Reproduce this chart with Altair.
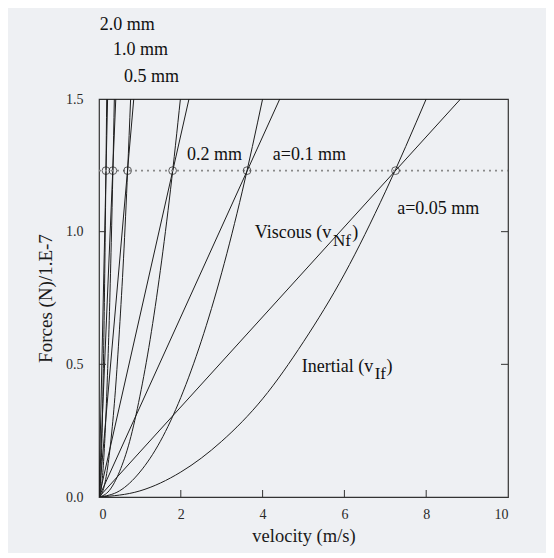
import altair as alt
import pandas as pd

# ---------------- data ----------------
radii = ["2.0 mm", "1.0 mm", "0.5 mm", "0.2 mm", "0.1 mm", "0.05 mm"]
cross_v = [0.17, 0.34, 0.70, 1.80, 3.62, 7.25]      # velocity where viscous = inertial
cross_f = 1.23                                         # force level of the crossings
visc_top_v = [0.21, 0.41, 0.85, 2.20, 4.42, 8.84]     # where viscous line leaves the top

inert_v_20 = [0, 0.025, 0.05, 0.075, 0.10, 0.125, 0.15, 0.17, 0.188]
inert_f_20 = [0, 0.027, 0.106, 0.24, 0.43, 0.665, 0.96, 1.23, 1.5]
inert_v_10 = [0, 0.05, 0.10, 0.15, 0.20, 0.25, 0.30, 0.34, 0.375]
inert_f_10 = [0, 0.027, 0.106, 0.24, 0.43, 0.665, 0.96, 1.23, 1.5]
inert_v_05 = [0, 0.10, 0.20, 0.30, 0.40, 0.50, 0.60, 0.70, 0.773]
inert_f_05 = [0, 0.025, 0.10, 0.226, 0.40, 0.63, 0.90, 1.23, 1.5]
inert_v_02 = [0, 0.25, 0.50, 0.75, 1.00, 1.25, 1.50, 1.75, 1.99]
inert_f_02 = [0, 0.024, 0.095, 0.21, 0.38, 0.593, 0.854, 1.16, 1.5]
inert_v_01 = [0, 0.5, 1.0, 1.5, 2.0, 2.5, 3.0, 3.5, 4.0]
inert_f_01 = [0, 0.023, 0.094, 0.21, 0.375, 0.587, 0.845, 1.15, 1.5]
inert_v_005 = [0, 1, 2, 3, 4, 5, 6, 7, 8.0]
inert_f_005 = [0, 0.023, 0.094, 0.21, 0.37, 0.585, 0.84, 1.15, 1.5]

x_ticks = [0, 2, 4, 6, 8, 10]
y_ticks = [0.0, 0.5, 1.0, 1.5]

label_text = ["2.0 mm", "1.0 mm", "0.5 mm", "0.2 mm", "a=0.1 mm", "a=0.05 mm",
              "Viscous (v", ")", "Inertial (v", ")"]
label_x = [0.02, 0.34, 0.61, 2.15, 4.25, 7.29, 3.81, 6.19, 4.96, 7.03]
label_y = [1.78, 1.685, 1.583, 1.289, 1.289, 1.086, 0.995, 0.995, 0.49, 0.49]
sub_text = ["Nf", "If"]
sub_x = [5.72, 6.74]
sub_y = [0.965, 0.465]

# ---------------- build tables ----------------
rows = []
for r, vt in zip(radii, visc_top_v):
    rows.append({"curve": "visc " + r, "v": 0.0, "f": 0.0, "o": 0})
    rows.append({"curve": "visc " + r, "v": vt, "f": 1.5, "o": 1})
inert = {
    "2.0 mm": (inert_v_20, inert_f_20),
    "1.0 mm": (inert_v_10, inert_f_10),
    "0.5 mm": (inert_v_05, inert_f_05),
    "0.2 mm": (inert_v_02, inert_f_02),
    "0.1 mm": (inert_v_01, inert_f_01),
    "0.05 mm": (inert_v_005, inert_f_005),
}
for r, (vs, fs) in inert.items():
    for i, (v, f) in enumerate(zip(vs, fs)):
        rows.append({"curve": "inert " + r, "v": v, "f": f, "o": i})
lines_df = pd.DataFrame(rows)

cross_df = pd.DataFrame({"radius": radii, "v": cross_v, "f": [cross_f] * len(radii)})
labels_df = pd.DataFrame({"t": label_text, "v": label_x, "f": label_y})
subs_df = pd.DataFrame({"t": sub_text, "v": sub_x, "f": sub_y})

W, H = 409, 398
FONT = "Liberation Serif"
INK = "#1e1e1e"

xscale = alt.Scale(domain=[0, 10], nice=False, zero=True)
yscale = alt.Scale(domain=[0, 1.5], nice=False, zero=True)

xenc = alt.X("v:Q", scale=xscale,
             axis=alt.Axis(values=x_ticks, title="velocity (m/s)", ticks=False, domain=False,
                           grid=False, labelFont=FONT, labelFontSize=14, labelColor="#2a2a2a",
                           labelPadding=10, titleFont=FONT, titleFontSize=18.5,
                           titleFontWeight="normal", titleColor="#1a1a1a", titlePadding=5,
                           format="d"))
yenc = alt.Y("f:Q", scale=yscale,
             axis=alt.Axis(values=y_ticks, title="Forces (N)/1.E-7", ticks=False, domain=False,
                           grid=False, labelFont=FONT, labelFontSize=14, labelColor="#2a2a2a",
                           labelPadding=16, titleFont=FONT, titleFontSize=19,
                           titleFontWeight="normal", titleColor="#1a1a1a", titlePadding=10,
                           format=".1f"))

curves = alt.Chart(lines_df).mark_line(color=INK, strokeWidth=1, interpolate="monotone",
                                       clip=True).encode(
    x=xenc, y=yenc, detail="curve:N", order="o:Q")

level = alt.Chart(pd.DataFrame({"f": [cross_f]})).mark_rule(
    color="#8a8a8a", strokeWidth=1.6, strokeDash=[2, 4]).encode(
    y=alt.Y("f:Q", scale=yscale), x=alt.value(0), x2=alt.value(W))

circles = alt.Chart(cross_df).mark_point(shape="circle", size=60, filled=False,
                                         color=INK, strokeWidth=1).encode(
    x=alt.X("v:Q", scale=xscale), y=alt.Y("f:Q", scale=yscale))

labels = alt.Chart(labels_df).mark_text(align="left", baseline="middle", font=FONT,
                                        fontSize=18, color="#111").encode(
    x=alt.X("v:Q", scale=xscale), y=alt.Y("f:Q", scale=yscale), text="t:N")

subs = alt.Chart(subs_df).mark_text(align="left", baseline="middle", font=FONT,
                                    fontSize=17, color="#111").encode(
    x=alt.X("v:Q", scale=xscale), y=alt.Y("f:Q", scale=yscale), text="t:N")

# inward-pointing axis ticks
yt_df = pd.DataFrame({"f": [0.5, 1.0]})
xt_df = pd.DataFrame({"v": [2, 4, 6, 8]})
left_ticks = alt.Chart(yt_df).mark_rule(color="#333", strokeWidth=1).encode(
    y=alt.Y("f:Q", scale=yscale), x=alt.value(0), x2=alt.value(7))
right_ticks = alt.Chart(yt_df).mark_rule(color="#333", strokeWidth=1).encode(
    y=alt.Y("f:Q", scale=yscale), x=alt.value(W), x2=alt.value(W - 7))
bottom_ticks = alt.Chart(xt_df).mark_rule(color="#333", strokeWidth=1).encode(
    x=alt.X("v:Q", scale=xscale), y=alt.value(H), y2=alt.value(H - 7))

chart = alt.layer(curves, level, circles, labels, subs, left_ticks, right_ticks,
                  bottom_ticks).properties(
    width=W, height=H,
    autosize=alt.AutoSizeParams(type="none"),
    padding={"left": 91, "top": 91, "right": 38, "bottom": 56},
    background="#eef0f3",
).configure_view(stroke="#333", strokeWidth=1.2
).configure_axis(labelFont=FONT, titleFont=FONT)

chart.save("out.html", embed_options={"renderer": "svg", "actions": False})
